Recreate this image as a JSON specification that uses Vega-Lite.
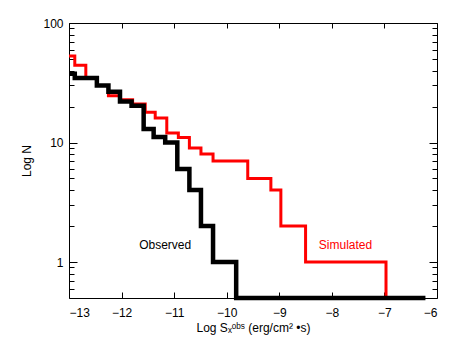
{
  "$schema": "https://vega.github.io/schema/vega-lite/v6.json",
  "width": 368,
  "height": 275,
  "autosize": "none",
  "padding": {"left": 69, "top": 23, "right": 21, "bottom": 45},
  "background": "white",
  "config": {
    "view": {"stroke": "black", "strokeWidth": 1},
    "axis": {
      "grid": false,
      "domainColor": "black",
      "tickColor": "black",
      "labelColor": "black",
      "titleColor": "black",
      "labelFont": "Liberation Sans",
      "titleFont": "Liberation Sans",
      "labelFontSize": 12,
      "titleFontSize": 12,
      "titleFontWeight": "normal"
    }
  },
  "datasets": {
    "hist": [
      {"series": "Observed", "x": -13, "n": 37.6},
      {"series": "Observed", "x": -12.89, "n": 34.6},
      {"series": "Observed", "x": -12.47, "n": 30},
      {"series": "Observed", "x": -12.25, "n": 26.6},
      {"series": "Observed", "x": -12.03, "n": 22},
      {"series": "Observed", "x": -11.81, "n": 20.3},
      {"series": "Observed", "x": -11.58, "n": 13},
      {"series": "Observed", "x": -11.39, "n": 11.1},
      {"series": "Observed", "x": -11.17, "n": 10},
      {"series": "Observed", "x": -10.94, "n": 6},
      {"series": "Observed", "x": -10.71, "n": 4},
      {"series": "Observed", "x": -10.49, "n": 2},
      {"series": "Observed", "x": -10.26, "n": 1},
      {"series": "Observed", "x": -9.82, "n": 0.5},
      {"series": "Observed", "x": -6.22, "n": 0.5},
      {"series": "Simulated", "x": -13, "n": 53},
      {"series": "Simulated", "x": -12.89, "n": 44.4},
      {"series": "Simulated", "x": -12.68, "n": 35},
      {"series": "Simulated", "x": -12.47, "n": 30},
      {"series": "Simulated", "x": -12.25, "n": 24.6},
      {"series": "Simulated", "x": -12.03, "n": 22.8},
      {"series": "Simulated", "x": -11.79, "n": 21},
      {"series": "Simulated", "x": -11.55, "n": 17.9},
      {"series": "Simulated", "x": -11.36, "n": 16},
      {"series": "Simulated", "x": -11.14, "n": 12},
      {"series": "Simulated", "x": -10.92, "n": 11},
      {"series": "Simulated", "x": -10.71, "n": 9},
      {"series": "Simulated", "x": -10.49, "n": 8},
      {"series": "Simulated", "x": -10.26, "n": 7},
      {"series": "Simulated", "x": -9.6, "n": 5},
      {"series": "Simulated", "x": -9.16, "n": 4},
      {"series": "Simulated", "x": -8.97, "n": 2},
      {"series": "Simulated", "x": -8.5, "n": 1},
      {"series": "Simulated", "x": -6.97, "n": 0.5}
    ],
    "labels": [
      {"label": "Observed", "x": -11.17, "n": 1.39, "color": "black"},
      {"label": "Simulated", "x": -7.74, "n": 1.39, "color": "red"}
    ]
  },
  "layer": [
    {
      "data": {"name": "hist"},
      "transform": [{"filter": "datum.series == 'Simulated'"}],
      "mark": {"type": "line", "interpolate": "step-after", "color": "#ff0000", "strokeWidth": 3, "clip": false, "strokeJoin": "miter"},
      "encoding": {
        "x": {"field": "x", "type": "quantitative", "scale": {"domain": [-13, -6], "nice": false, "zero": false},
          "axis": {"orient": "top", "values": [-13, -12, -11, -10, -9, -8, -7, -6], "labels": false, "title": null, "tickSize": -5, "domain": false}},
        "y": {"field": "n", "type": "quantitative", "scale": {"type": "log", "domain": [0.5, 100], "nice": false},
          "axis": {"orient": "right", "values": [0.6, 0.7, 0.8, 0.9, 1, 2, 3, 4, 5, 6, 7, 8, 9, 10, 20, 30, 40, 50, 60, 70, 80, 90, 100], "labels": false, "title": null, "domain": false,
            "tickSize": {"condition": {"test": "datum.value == 1 || datum.value == 10 || datum.value == 100", "value": -8}, "value": -5}}}
      }
    },
    {
      "data": {"name": "hist"},
      "transform": [{"filter": "datum.series == 'Observed'"}],
      "mark": {"type": "line", "interpolate": "step-after", "color": "black", "strokeWidth": 4.5, "clip": false, "strokeJoin": "miter"},
      "encoding": {
        "x": {"field": "x", "type": "quantitative", "scale": {"domain": [-13, -6], "nice": false, "zero": false},
          "axis": {"orient": "bottom", "values": [-13, -12, -11, -10, -9, -8, -7, -6], "title": "Log Sₓᵒᵇˢ (erg/cm² •s)", "tickSize": -6, "labelPadding": 15, "titlePadding": 4, "domain": false}},
        "y": {"field": "n", "type": "quantitative", "scale": {"type": "log", "domain": [0.5, 100], "nice": false},
          "axis": {"orient": "left", "values": [0.6, 0.7, 0.8, 0.9, 1, 2, 3, 4, 5, 6, 7, 8, 9, 10, 20, 30, 40, 50, 60, 70, 80, 90, 100], "title": "Log N", "domain": false,
            "labelExpr": "(datum.value == 1 || datum.value == 10 || datum.value == 100) ? datum.label : ''",
            "format": "d", "labelPadding": 14, "titlePadding": 9,
            "tickSize": {"condition": {"test": "datum.value == 1 || datum.value == 10 || datum.value == 100", "value": -8}, "value": -5}}}
      }
    },
    {
      "data": {"name": "labels"},
      "mark": {"type": "text", "font": "Liberation Sans", "fontSize": 12, "align": "center", "baseline": "middle"},
      "encoding": {
        "x": {"field": "x", "type": "quantitative", "scale": {"domain": [-13, -6], "nice": false, "zero": false}, "axis": null},
        "y": {"field": "n", "type": "quantitative", "scale": {"type": "log", "domain": [0.5, 100], "nice": false}, "axis": null},
        "text": {"field": "label"},
        "color": {"field": "color", "type": "nominal", "scale": null}
      }
    }
  ],
  "resolve": {"axis": {"x": "independent", "y": "independent"}}
}
